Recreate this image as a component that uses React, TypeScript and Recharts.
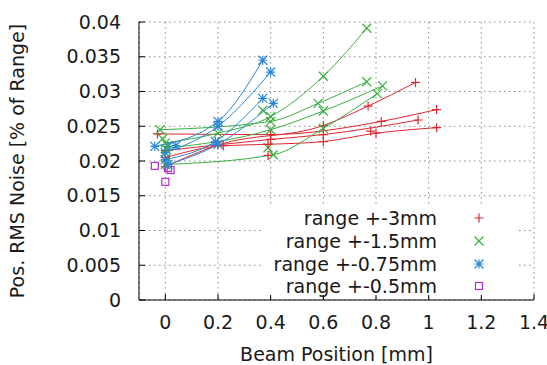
import {
  CartesianGrid,
  ComposedChart,
  Legend,
  Line,
  Scatter,
  XAxis,
  YAxis,
} from "recharts";

type Pt = { x: number; y: number };
type Shape = "plus" | "cross" | "star" | "square";

// range +-3mm
const red1: Pt[] = [{ x: 0.0, y: 0.0192 }, { x: 0.2, y: 0.0223 }, { x: 0.6, y: 0.0251 }, { x: 0.77, y: 0.0279 }, { x: 0.95, y: 0.0313 }];
const red2: Pt[] = [{ x: -0.03, y: 0.0239 }, { x: 0.4, y: 0.0238 }, { x: 0.82, y: 0.0257 }, { x: 1.03, y: 0.0274 }];
const red3: Pt[] = [{ x: 0.0, y: 0.0215 }, { x: 0.4, y: 0.0231 }, { x: 0.6, y: 0.0238 }, { x: 0.96, y: 0.0259 }];
const red4: Pt[] = [{ x: 0.0, y: 0.0205 }, { x: 0.22, y: 0.0222 }, { x: 0.39, y: 0.0224 }, { x: 0.6, y: 0.0228 }, { x: 0.8, y: 0.024 }, { x: 1.03, y: 0.0248 }];
const redExtra: Pt[] = [{ x: 0.39, y: 0.0208 }, { x: 0.78, y: 0.0243 }];

// range +-1.5mm
const green1: Pt[] = [{ x: 0.0, y: 0.0226 }, { x: 0.2, y: 0.024 }, { x: 0.4, y: 0.0264 }, { x: 0.6, y: 0.0322 }, { x: 0.765, y: 0.0391 }];
const green2: Pt[] = [{ x: -0.02, y: 0.0245 }, { x: 0.4, y: 0.0257 }, { x: 0.58, y: 0.0283 }, { x: 0.765, y: 0.0314 }];
const green3: Pt[] = [{ x: 0.0, y: 0.0218 }, { x: 0.4, y: 0.0245 }, { x: 0.6, y: 0.0272 }, { x: 0.825, y: 0.0308 }];
const green4: Pt[] = [{ x: 0.0, y: 0.0195 }, { x: 0.41, y: 0.0209 }, { x: 0.6, y: 0.0247 }, { x: 0.805, y: 0.0297 }];
const greenExtra: Pt[] = [{ x: 0.37, y: 0.0273 }, { x: 0.39, y: 0.0219 }, { x: -0.01, y: 0.0232 }, { x: 0.005, y: 0.0205 }];

// range +-0.75mm
const blue1: Pt[] = [{ x: -0.04, y: 0.0221 }, { x: 0.2, y: 0.0257 }, { x: 0.37, y: 0.0345 }];
const blue2: Pt[] = [{ x: 0.0, y: 0.0212 }, { x: 0.2, y: 0.025 }, { x: 0.4, y: 0.0328 }];
const blue3: Pt[] = [{ x: 0.0, y: 0.0202 }, { x: 0.19, y: 0.0228 }, { x: 0.37, y: 0.029 }];
const blue4: Pt[] = [{ x: 0.01, y: 0.0195 }, { x: 0.2, y: 0.0224 }, { x: 0.41, y: 0.0283 }];
const blueExtra: Pt[] = [{ x: 0.01, y: 0.0221 }, { x: 0.04, y: 0.0222 }];

// range +-0.5mm
const purplePts: Pt[] = [{ x: -0.04, y: 0.0193 }, { x: 0.01, y: 0.019 }, { x: 0.02, y: 0.0187 }, { x: 0.0, y: 0.017 }];

const seriesNames = ["range +-3mm", "range +-1.5mm", "range +-0.75mm", "range +-0.5mm"];
const seriesColors = ["#e0282e", "#3cb043", "#2a86d6", "#b42cd6"];
const seriesShapes: Shape[] = ["plus", "cross", "star", "square"];

const xTicks = [0, 0.2, 0.4, 0.6, 0.8, 1, 1.2, 1.4];
const yTicks = [0, 0.005, 0.01, 0.015, 0.02, 0.025, 0.03, 0.035, 0.04];

const curves: { data: Pt[]; s: number }[] = [
  { data: red1, s: 0 }, { data: red2, s: 0 }, { data: red3, s: 0 }, { data: red4, s: 0 },
  { data: green1, s: 1 }, { data: green2, s: 1 }, { data: green3, s: 1 }, { data: green4, s: 1 },
  { data: blue1, s: 2 }, { data: blue2, s: 2 }, { data: blue3, s: 2 }, { data: blue4, s: 2 },
];
const extras: { data: Pt[]; s: number }[] = [
  { data: redExtra, s: 0 }, { data: greenExtra, s: 1 }, { data: blueExtra, s: 2 }, { data: purplePts, s: 3 },
];

const FONT = "'DejaVu Sans', sans-serif";
const FS = 19;
const TEXT = "#1a1a1a";

function Marker({ cx, cy, shape, color }: { cx: number; cy: number; shape: Shape; color: string }) {
  const s = 4.5;
  if (cx == null || cy == null) return <g />;
  const plus = `M${cx - s},${cy}H${cx + s}M${cx},${cy - s}V${cy + s}`;
  const cross = `M${cx - s},${cy - s}L${cx + s},${cy + s}M${cx - s},${cy + s}L${cx + s},${cy - s}`;
  if (shape === "square")
    return <rect x={cx - 3.5} y={cy - 3.5} width={7} height={7} fill="none" stroke={color} strokeWidth={1.2} />;
  const d = shape === "plus" ? plus : shape === "cross" ? cross : plus + cross;
  return <path d={d} stroke={color} strokeWidth={1.2} fill="none" />;
}

function KeyBox() {
  return (
    <div style={{ background: "#fff", width: 254, height: 88, paddingTop: 2, fontFamily: FONT, fontSize: FS, color: TEXT }}>
      {seriesNames.map((n, i) => (
        <div key={n} style={{ display: "flex", alignItems: "center", height: 22.7 }}>
          <div style={{ width: 175, textAlign: "right", whiteSpace: "nowrap" }}>{n}</div>
          <svg width={79} height={22} style={{ display: "block" }}>
            <Marker cx={42} cy={11} shape={seriesShapes[i]} color={seriesColors[i]} />
          </svg>
        </div>
      ))}
    </div>
  );
}

export default function App() {
  const tickStyle = { fontFamily: FONT, fontSize: FS, fill: TEXT };
  const labelStyle = { fontFamily: FONT, fontSize: FS, fill: TEXT };
  return (
    <div style={{ position: "absolute", left: 0, top: 0, background: "#fff" }}>
      <ComposedChart width={547} height={365} margin={{ top: 22, right: 13, bottom: 0, left: 0 }}>
        <CartesianGrid stroke="#8a8a8a" strokeDasharray="1.5 3.5" />
        <XAxis
          type="number"
          dataKey="x"
          domain={[-0.1, 1.4]}
          ticks={xTicks}
          interval={0}
          allowDataOverflow
          height={65}
          stroke="#000"
          tickSize={-6}
          tickMargin={22}
          tick={tickStyle}
          label={{ value: "Beam Position [mm]", position: "center", dy: 22, style: labelStyle }}
        />
        <XAxis
          xAxisId="top"
          orientation="top"
          type="number"
          domain={[-0.1, 1.4]}
          ticks={xTicks}
          interval={0}
          allowDataOverflow
          height={0}
          stroke="#000"
          tickSize={-6}
          tick={false}
        />
        <YAxis
          type="number"
          domain={[0, 0.04]}
          ticks={yTicks}
          interval={0}
          allowDataOverflow
          width={139}
          stroke="#000"
          tickSize={-6}
          tickMargin={24}
          tick={tickStyle}
          label={{ value: "Pos. RMS Noise [% of Range]", angle: -90, position: "center", dx: -52, style: labelStyle }}
        />
        <YAxis
          yAxisId="right"
          orientation="right"
          type="number"
          domain={[0, 0.04]}
          ticks={yTicks}
          interval={0}
          allowDataOverflow
          width={0}
          stroke="#000"
          tickSize={-6}
          tick={false}
        />
        {curves.map((c, i) => (
          <Line
            key={`c${i}`}
            data={c.data}
            dataKey="y"
            type="monotone"
            stroke={seriesColors[c.s]}
            strokeWidth={1}
            isAnimationActive={false}
            activeDot={false}
            legendType="none"
            dot={(p: any) => (
              <Marker key={`d${i}-${p.index}`} cx={p.cx} cy={p.cy} shape={seriesShapes[c.s]} color={seriesColors[c.s]} />
            )}
          />
        ))}
        {extras.map((e, i) => (
          <Scatter
            key={`e${i}`}
            data={e.data}
            dataKey="y"
            isAnimationActive={false}
            legendType="none"
            shape={(p: any) => <Marker cx={p.cx} cy={p.cy} shape={seriesShapes[e.s]} color={seriesColors[e.s]} />}
          />
        ))}
        <Legend
          layout="vertical"
          align="center"
          verticalAlign="middle"
          content={() => <KeyBox />}
          wrapperStyle={{ left: 262, top: 205, width: 254, height: 88 }}
        />
      </ComposedChart>
    </div>
  );
}
